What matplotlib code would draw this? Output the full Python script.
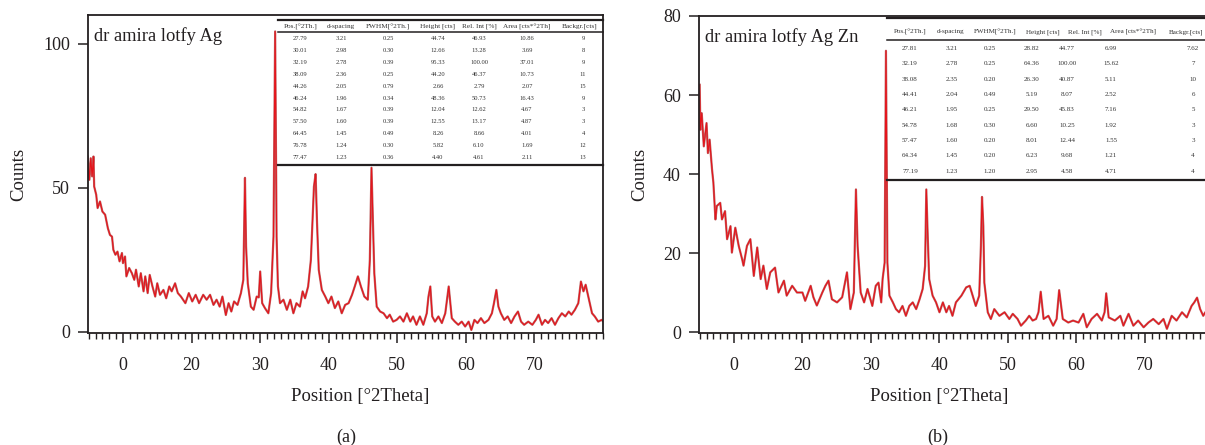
#%% Packages
import matplotlib.pyplot as plt
from matplotlib.lines import Line2D
from matplotlib.ticker import FixedLocator, MultipleLocator

plt.rcParams['font.family'] = ['Liberation Serif', 'DejaVu Serif']

#%% Pattern (a): dr amira lotfy Ag
x_a = [4.85, 5.1, 5.3, 5.5, 5.7, 5.8, 6.1, 6.3, 6.65, 7.0, 7.4, 7.8, 8.1, 8.4, 8.6, 8.9, 9.2, 9.5,
       9.85, 10.0, 10.3, 10.5, 10.9, 11.3, 11.65, 11.9, 12.3, 12.6, 13.0, 13.25, 13.6, 13.9, 14.3,
       14.7, 15.0, 15.4, 15.9, 16.3, 16.75, 17.1, 17.6, 18.0, 18.45, 19.1, 19.6, 20.1, 20.6, 21.1,
       21.7, 22.2, 22.7, 23.2, 23.65, 24.1, 24.5, 25.0, 25.4, 25.8, 26.2, 26.7, 27.2, 27.55, 27.79,
       27.95, 28.2, 28.65, 29.05, 29.5, 29.8, 30.01, 30.3, 30.7, 31.2, 31.6, 31.95, 32.19, 32.4,
       32.6, 32.9, 33.4, 33.9, 34.4, 34.85, 35.3, 35.8, 36.2, 36.55, 37.0, 37.4, 37.85, 38.09,
       38.3, 38.55, 39.0, 39.5, 39.95, 40.4, 40.9, 41.4, 41.9, 42.4, 42.9, 43.4, 43.8, 44.26, 44.7,
       45.2, 45.7, 46.0, 46.24, 46.45, 46.65, 47.0, 47.5, 48.0, 48.5, 48.9, 49.4, 49.9, 50.4, 50.9,
       51.4, 51.9, 52.3, 52.8, 53.3, 53.8, 54.3, 54.55, 54.82, 55.1, 55.5, 56.0, 56.5, 57.0, 57.5,
       57.95, 58.4, 58.9, 59.4, 59.9, 60.4, 60.8, 61.25, 61.7, 62.2, 62.7, 63.3, 63.8, 64.1, 64.45,
       64.75, 65.1, 65.6, 66.1, 66.6, 67.1, 67.6, 68.05, 68.5, 69.1, 69.7, 70.2, 70.6, 71.1, 71.55,
       72.0, 72.5, 73.0, 73.5, 74.0, 74.5, 75.0, 75.4, 75.9, 76.4, 76.78, 77.15, 77.47, 77.95,
       78.4, 78.8, 79.3, 79.8, 80.06]
y_a = [60.9, 52.8, 60.3, 54.0, 60.9, 50.5, 47.6, 43.0, 45.3, 41.8, 40.7, 36.0, 33.7, 33.1, 28.5,
       26.8, 27.9, 24.5, 27.4, 23.9, 26.2, 19.3, 22.2, 20.4, 18.1, 21.6, 15.8, 20.4, 14.1, 19.3,
       13.5, 19.8, 15.8, 12.3, 16.9, 12.9, 14.6, 11.7, 15.8, 14.1, 16.9, 13.5, 12.3, 10.0, 13.5,
       10.6, 12.9, 10.0, 12.9, 11.2, 12.9, 9.4, 11.2, 8.8, 12.3, 5.9, 10.0, 7.1, 10.6, 9.4, 13.5,
       18.1, 53.5, 29.7, 16.9, 8.8, 7.7, 12.3, 12.0, 21.0, 10.0, 8.3, 6.5, 13.5, 33.1, 104.3, 33.1,
       15.8, 10.0, 11.2, 7.7, 11.2, 6.5, 10.0, 8.8, 14.1, 11.7, 15.8, 25.0, 50.5, 54.8, 37.8, 21.6,
       14.6, 12.3, 10.0, 12.3, 8.3, 10.6, 6.5, 9.4, 10.0, 12.9, 15.8, 19.3, 15.8, 12.3, 11.2, 25.0,
       57.0, 37.8, 20.4, 8.8, 7.1, 6.5, 4.8, 6.0, 3.6, 4.2, 5.4, 3.6, 6.5, 3.6, 5.4, 2.5, 5.4, 2.5,
       6.5, 12.3, 15.8, 5.4, 3.6, 5.4, 3.1, 6.5, 15.8, 4.8, 3.6, 2.5, 3.6, 1.9, 3.6, 0.7, 4.2, 3.1,
       4.8, 3.1, 4.2, 6.5, 10.0, 14.6, 8.8, 6.5, 4.2, 5.4, 3.1, 5.4, 7.1, 3.6, 2.5, 3.6, 2.5, 4.2,
       6.0, 2.5, 4.2, 3.1, 4.8, 2.5, 4.8, 6.5, 5.4, 7.1, 6.0, 7.7, 10.0, 17.5, 14.1, 16.4, 11.2,
       6.5, 5.4, 3.6, 4.2, 3.6]

#%% Pattern (b): dr amira lotfy Ag Zn
x_b = [5.0, 5.1, 5.3, 5.6, 6.0, 6.2, 6.45, 6.8, 7.0, 7.3, 7.5, 8.0, 8.25, 8.7, 9.0, 9.5, 9.7, 10.2,
       10.7, 11.2, 11.4, 11.9, 12.4, 12.9, 13.4, 13.9, 14.3, 14.8, 15.3, 16.0, 16.5, 17.3, 17.7,
       18.5, 19.2, 20.0, 20.4, 21.2, 21.6, 22.1, 22.9, 23.35, 23.8, 24.3, 25.05, 25.8, 26.5, 27.0,
       27.5, 27.81, 28.05, 28.5, 29.0, 29.5, 30.2, 30.7, 31.1, 31.5, 31.7, 32.0, 32.19, 32.4, 32.7,
       33.2, 33.65, 34.1, 34.6, 35.1, 35.6, 36.1, 36.6, 37.1, 37.55, 37.9, 38.08, 38.3, 38.5, 39.0,
       39.5, 40.0, 40.5, 41.0, 41.4, 41.9, 42.4, 43.2, 43.9, 44.41, 44.85, 45.3, 45.8, 46.05,
       46.21, 46.4, 46.55, 47.05, 47.5, 48.0, 48.75, 49.5, 50.2, 50.7, 51.4, 51.9, 52.6, 53.1,
       53.6, 54.1, 54.45, 54.78, 55.2, 55.9, 56.6, 57.1, 57.47, 58.0, 58.8, 59.5, 60.3, 61.0,
       61.5, 62.2, 63.0, 63.7, 64.1, 64.34, 64.7, 65.6, 66.4, 66.85, 67.6, 68.3, 69.0, 69.8, 70.5,
       71.2, 72.0, 72.7, 73.2, 73.9, 74.6, 75.4, 76.1, 76.8, 77.19, 77.6, 78.05, 78.5, 78.8, 79.3,
       79.9]
y_b = [62.6, 51.2, 55.4, 47.0, 52.9, 45.3, 48.7, 41.2, 37.8, 28.5, 31.9, 32.7, 28.5, 30.6, 23.5,
       26.8, 20.1, 26.4, 21.8, 18.4, 16.8, 21.8, 23.5, 14.2, 21.4, 13.4, 16.8, 10.9, 15.1, 16.3,
       10.0, 13.0, 9.2, 11.7, 10.0, 10.0, 7.9, 11.7, 8.8, 6.7, 10.0, 11.7, 13.0, 8.3, 7.5, 8.8,
       15.1, 5.8, 10.0, 36.1, 21.8, 10.0, 7.5, 10.9, 6.6, 11.7, 12.5, 7.5, 13.4, 17.6, 71.2, 17.6,
       9.2, 7.5, 5.8, 5.0, 6.6, 4.1, 6.6, 7.5, 5.8, 8.3, 10.9, 16.7, 36.1, 23.5, 13.4, 9.2, 7.5,
       5.0, 7.5, 5.0, 6.6, 4.1, 7.5, 9.2, 11.3, 11.7, 9.2, 6.6, 9.2, 21.8, 34.2, 26.8, 12.5, 5.0,
       3.3, 5.8, 4.1, 5.0, 3.3, 4.6, 3.3, 1.6, 2.9, 4.1, 2.9, 3.3, 5.0, 10.2, 3.3, 4.1, 1.6, 3.3,
       10.6, 3.3, 2.4, 2.9, 2.4, 4.6, 1.2, 3.3, 4.6, 2.9, 5.0, 9.8, 3.7, 2.9, 4.1, 1.6, 4.6, 1.6,
       2.9, 1.2, 2.4, 3.3, 2.0, 3.3, 0.8, 4.1, 2.9, 5.0, 3.7, 6.6, 7.5, 8.7, 5.8, 4.1, 5.0, 4.0,
       3.5]

#%% Peak tables
headers = ["Pos.[°2Th.]", "d-spacing", "FWHM[°2Th.]", "Height [cts]", "Rel. Int [%]",
           "Area [cts*°2Th]", "Backgr.[cts]"]

pos_a = ["27.79", "30.01", "32.19", "38.09", "44.26", "46.24", "54.82", "57.50", "64.45", "76.78", "77.47"]
dsp_a = ["3.21", "2.98", "2.78", "2.36", "2.05", "1.96", "1.67", "1.60", "1.45", "1.24", "1.23"]
fwhm_a = ["0.25", "0.30", "0.39", "0.25", "0.79", "0.34", "0.39", "0.39", "0.49", "0.30", "0.36"]
height_a = ["44.74", "12.66", "95.33", "44.20", "2.66", "48.36", "12.04", "12.55", "8.26", "5.82", "4.40"]
relint_a = ["46.93", "13.28", "100.00", "46.37", "2.79", "50.73", "12.62", "13.17", "8.66", "6.10", "4.61"]
area_a = ["10.86", "3.69", "37.01", "10.73", "2.07", "16.43", "4.67", "4.87", "4.01", "1.69", "2.11"]
bg_a = ["9", "8", "9", "11", "15", "9", "3", "3", "4", "12", "13"]

pos_b = ["27.81", "32.19", "38.08", "44.41", "46.21", "54.78", "57.47", "64.34", "77.19"]
dsp_b = ["3.21", "2.78", "2.35", "2.04", "1.95", "1.68", "1.60", "1.45", "1.23"]
fwhm_b = ["0.25", "0.25", "0.20", "0.49", "0.25", "0.30", "0.20", "0.20", "1.20"]
height_b = ["28.82", "64.36", "26.30", "5.19", "29.50", "6.60", "8.01", "6.23", "2.95"]
relint_b = ["44.77", "100.00", "40.87", "8.07", "45.83", "10.25", "12.44", "9.68", "4.58"]
area_b = ["6.99", "15.62", "5.11", "2.52", "7.16", "1.92", "1.55", "1.21", "4.71"]
bg_b = ["7.62", "7", "10", "6", "5", "3", "3", "4", "4"]

tick_pos = [10, 20, 30, 40, 50, 60, 70]
tick_lab = ["0", "20", "30", "40", "50", "60", "70"]

#%% Figure
W, H = 1205, 445
fig = plt.figure(figsize=(W / 100, H / 100), dpi=100)
ax_a = fig.add_axes([88 / W, (H - 333) / H, 515 / W, 318 / H])
ax_b = fig.add_axes([699 / W, (H - 333) / H, 514.5 / W, 317 / H])

ink = '#231f20'


def draw_pattern(ax, x, y, ylim, yticks, title, ylab_x, xlab_x):
    ax.plot(x, y, color='#bf6666', lw=1.6)
    ax.plot(x, y, color='#e5141b', lw=0.8)
    ax.set_xlim(4.9, 80.0)
    ax.set_ylim(*ylim)
    ax.xaxis.set_major_locator(FixedLocator(tick_pos))
    ax.set_xticklabels(tick_lab)
    ax.xaxis.set_minor_locator(MultipleLocator(1))
    ax.set_yticks(yticks)
    ax.tick_params(axis='x', which='major', direction='out', length=7, width=1.1, pad=10,
                   labelsize=13, colors=ink)
    ax.tick_params(axis='x', which='minor', direction='out', length=4, width=1.0, colors=ink)
    ax.tick_params(axis='y', which='major', direction='out', length=7, width=1.1, pad=6,
                   labelsize=13, colors=ink)
    for sp in ax.spines.values():
        sp.set_linewidth(1.3)
        sp.set_color(ink)
    ax.set_ylabel("Counts", fontsize=13.5, color=ink)
    ax.yaxis.set_label_coords(ylab_x, 0.5)
    ax.set_xlabel("Position [°2Theta]", fontsize=13.5, color=ink)
    ax.xaxis.set_label_coords(xlab_x, -0.172)
    ax.text(0.011, 0.962, title, transform=ax.transAxes, ha='left', va='top',
            fontsize=13.3, color=ink)


draw_pattern(ax_a, x_a, y_a, (-0.35, 110), [0, 50, 100], "dr amira lotfy Ag", -0.117, 0.528)
draw_pattern(ax_b, x_b, y_b, (-0.25, 80), [0, 20, 40, 60, 80], "dr amira lotfy Ag Zn", -0.099, 0.466)


def draw_table(cols, head_x, col_x, x0, x1, top_y, head_y, rule_y, row_y0, row_dy, bottom_y,
               hsize, vsize):
    # everything here in figure pixels (top-left origin)
    def fx(px):
        return px / W

    def fy(py):
        return 1 - py / H

    fig.add_artist(Line2D([fx(x0), fx(x1)], [fy(top_y), fy(top_y)], color=ink, lw=1.6))
    fig.add_artist(Line2D([fx(x0), fx(x1)], [fy(rule_y), fy(rule_y)], color=ink, lw=1.1))
    fig.add_artist(Line2D([fx(x0), fx(x1)], [fy(bottom_y), fy(bottom_y)], color=ink, lw=1.6))
    for hx, head in zip(head_x, headers):
        fig.text(fx(hx), fy(head_y), head, ha='center', va='center', fontsize=hsize, color='#333333')
    for cx, col in zip(col_x, cols):
        for i, val in enumerate(col):
            fig.text(fx(cx), fy(row_y0 + i * row_dy), val, ha='center', va='center',
                     fontsize=vsize, color='#333333')


draw_table([pos_a, dsp_a, fwhm_a, height_a, relint_a, area_a, bg_a],
           [301, 341, 388, 438, 479, 527, 580],
           [300, 341, 388, 438, 479, 527, 583],
           278, 603, 20, 26.5, 32, 38.5, 11.9, 165, 5.2, 4.7)
draw_table([pos_b, dsp_b, fwhm_b, height_b, relint_b, area_b, bg_b],
           [910, 951, 995, 1043, 1085, 1133, 1186],
           [910, 952, 990, 1032, 1067, 1111, 1193],
           887, 1205, 18, 32, 40, 48.5, 15.35, 180, 5.1, 5.0)

fig.text(346 / W, 1 - 437 / H, "(a)", ha='center', va='center', fontsize=13, color=ink)
fig.text(938 / W, 1 - 437 / H, "(b)", ha='center', va='center', fontsize=13, color=ink)

plt.savefig("out.png", dpi=100)
